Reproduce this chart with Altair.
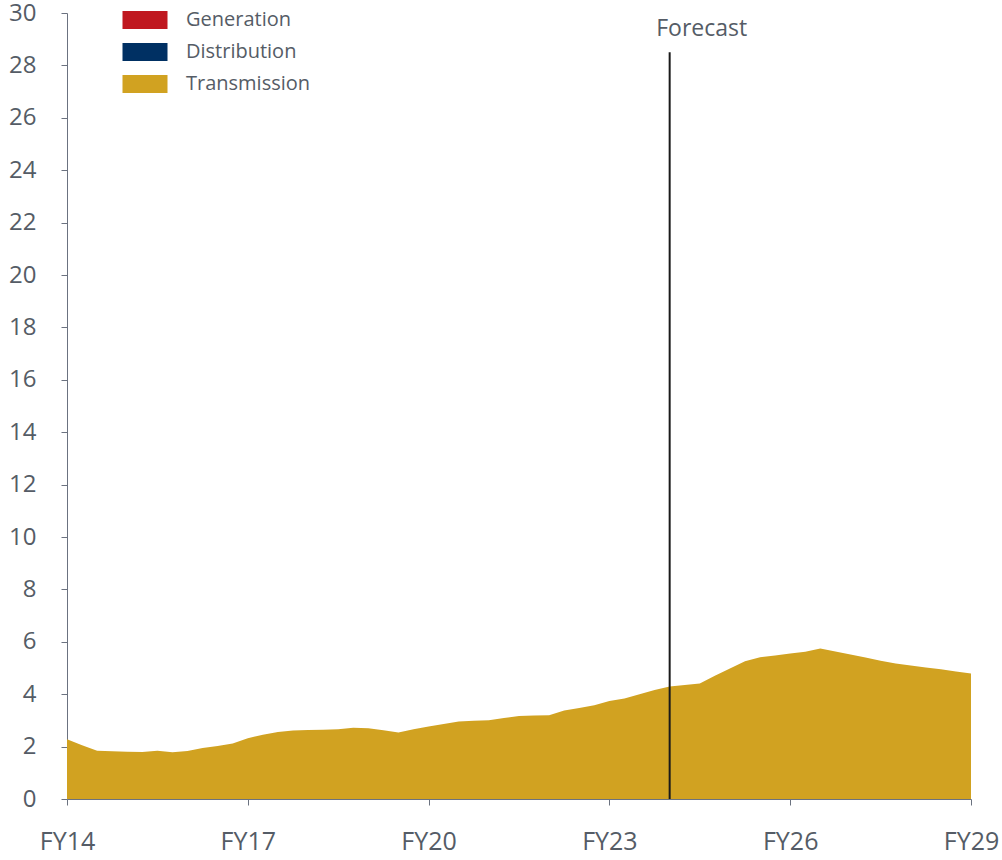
import altair as alt
import pandas as pd

# Quarterly fiscal-year positions, FY14 through FY29
fiscal_year = [14 + q * 0.25 for q in range(61)]

transmission = [
    2.28, 2.05, 1.84, 1.82, 1.80, 1.79, 1.84, 1.78, 1.83, 1.95, 2.02, 2.12,
    2.32, 2.45, 2.56, 2.61, 2.63, 2.64, 2.66, 2.72, 2.70, 2.62, 2.54, 2.66,
    2.77, 2.86, 2.96, 2.99, 3.01, 3.09, 3.17, 3.19, 3.20, 3.38, 3.47, 3.58,
    3.74, 3.84, 4.00, 4.16, 4.29, 4.35, 4.41, 4.70, 4.98, 5.26, 5.41, 5.48,
    5.55, 5.62, 5.74, 5.63, 5.52, 5.40, 5.28, 5.17, 5.10, 5.02, 4.95, 4.87,
    4.79,
]

series_names = ["Generation", "Distribution", "Transmission"]
series_colors = ["#C0181F", "#003063", "#D1A221"]

x_ticks = [14, 17, 20, 23, 26, 29]
y_ticks = list(range(0, 31, 2))

forecast_year = 24
forecast_top = 28.5

FONT = "Open Sans"
TEXT = "#555C66"
AXIS = "#6B7280"

df = pd.DataFrame({
    "fy": fiscal_year,
    "value": transmission,
    "segment": ["Transmission"] * len(fiscal_year),
})

x_scale = alt.Scale(domain=[14, 29], nice=False, zero=False)
y_scale = alt.Scale(domain=[0, 30], nice=False)

area = alt.Chart(df).mark_area(opacity=1).encode(
    x=alt.X("fy:Q", scale=x_scale,
            axis=alt.Axis(values=x_ticks, labelExpr="'FY' + datum.value",
                          title=None, grid=False, tickSize=6,
                          labelPadding=24, labelFontSize=25,
                          labelColor=TEXT, labelFont=FONT,
                          domainColor=AXIS, tickColor=AXIS,
                          labelFlush=False)),
    y=alt.Y("value:Q", scale=y_scale,
            axis=alt.Axis(values=y_ticks, title=None, grid=False, tickSize=6,
                          labelPadding=25, labelFontSize=24,
                          labelColor=TEXT, labelFont=FONT,
                          domainColor=AXIS, tickColor=AXIS)),
    color=alt.Color("segment:N",
                    scale=alt.Scale(domain=series_names, range=series_colors),
                    legend=alt.Legend(
                        title=None, orient="none", legendX=68, legendY=-3,
                        symbolType="M-2.5,-1L2.5,-1L2.5,1L-2.5,1Z",
                        symbolSize=324, symbolStrokeWidth=0,
                        labelFontSize=20, labelFont=FONT, labelColor=TEXT,
                        labelOffset=31, rowPadding=12, padding=0,
                        symbolOpacity=1)),
)

rule_df = pd.DataFrame({"fy": [forecast_year], "y0": [0], "y1": [forecast_top],
                        "label": ["Forecast"], "ty": [29.4]})

rule = alt.Chart(rule_df).mark_rule(color="#1A1A1A", strokeWidth=2).encode(
    x="fy:Q", y="y0:Q", y2="y1:Q",
)

label = alt.Chart(rule_df).mark_text(
    font=FONT, fontSize=23, color=TEXT, align="center", baseline="middle", dx=32,
).encode(x="fy:Q", y="ty:Q", text="label:N")

chart = (area + rule + label).properties(
    width=904, height=786,
    padding={"left": 67, "top": 13, "right": 31, "bottom": 61},
    autosize=alt.AutoSizeParams(type="none"),
    background="white",
).configure_view(stroke=None)

chart.save("out.html", embed_options={"renderer": "svg", "actions": False})
